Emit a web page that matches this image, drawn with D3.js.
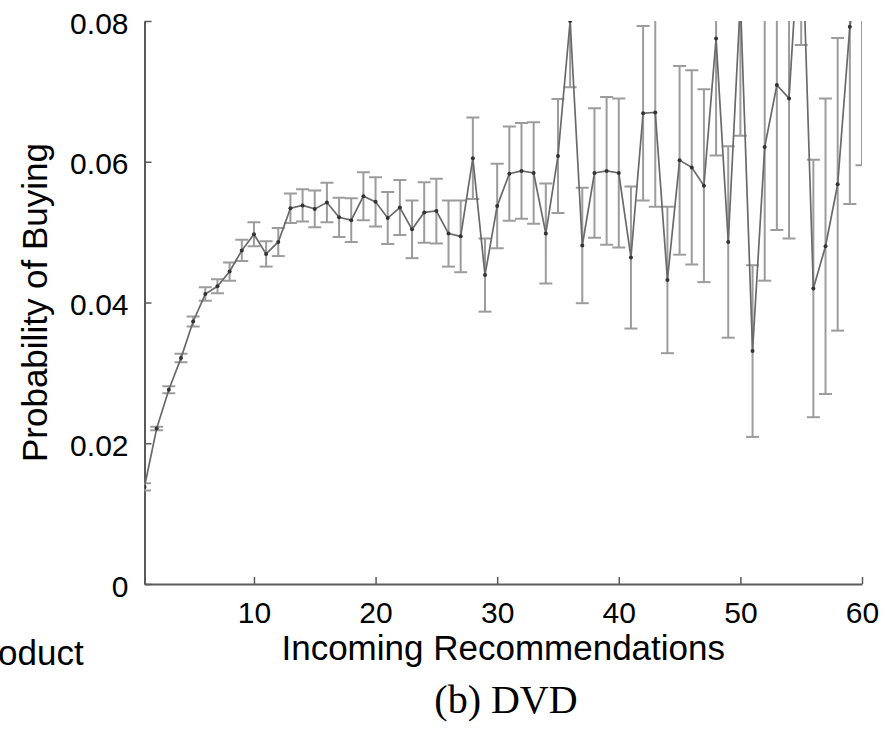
<!DOCTYPE html>
<html>
<head>
<meta charset="utf-8">
<script src="https://cdn.jsdelivr.net/npm/d3@7"></script>
<style>
  body { margin: 0; background: #fff; }
  svg { display: block; }
</style>
</head>
<body>
<div id="chart"></div>
<script>
// number of incoming recommendations
const recs = d3.range(1, 61);

// probability of buying
const prob = [
    0.0138, 0.0221, 0.0276, 0.0321, 0.0373, 0.0412, 0.0423, 0.0444, 0.0474, 0.0497,
    0.0469, 0.0486, 0.0534, 0.0538, 0.0533, 0.0542, 0.0521, 0.0517, 0.0551, 0.0543,
    0.0520, 0.0535, 0.0504, 0.0528, 0.0530, 0.0498, 0.0494, 0.0605, 0.0439, 0.0537,
    0.0583, 0.0587, 0.0584, 0.0498, 0.0608, 0.0800, 0.0481, 0.0584, 0.0587, 0.0584,
    0.0464, 0.0669, 0.0670, 0.0432, 0.0602, 0.0592, 0.0566, 0.0775, 0.0486, 0.0830,
    0.0331, 0.0621, 0.0709, 0.0690, 0.0970, 0.0420, 0.0480, 0.0568, 0.0792, 0.0890
];

// half length of the error bars
const err = [
    0.0005, 0.00025, 0.0005, 0.0006, 0.0007, 0.00095, 0.0010, 0.0013, 0.0015, 0.0017,
    0.0018, 0.0020, 0.0021, 0.0023, 0.0026, 0.0028, 0.0028, 0.0031, 0.0034, 0.0035,
    0.0037, 0.0039, 0.0041, 0.0043, 0.0046, 0.0047, 0.0051, 0.0058, 0.0052, 0.0060,
    0.0067, 0.0068, 0.0072, 0.0071, 0.0081, 0.0094, 0.0082, 0.0092, 0.0105, 0.0106,
    0.0101, 0.0124, 0.0134, 0.0104, 0.0134, 0.0138, 0.0137, 0.0166, 0.0136, 0.0193,
    0.0122, 0.0190, 0.0206, 0.0199, 0.0204, 0.0183, 0.0210, 0.0208, 0.0252, 0.0295
];

const xTicks = [10, 20, 30, 40, 50, 60];
const yTicks = [0, 0.02, 0.04, 0.06, 0.08];

const data = recs.map((r, i) => ({ n: r, p: prob[i], e: err[i] }));

const width = 889;
const height = 737;
const margin = { top: 21, right: 27, bottom: 153, left: 144.5 };
const innerWidth = width - margin.left - margin.right;
const innerHeight = height - margin.top - margin.bottom;
const axisGray = "#5a5a5a";
const barGray = "#9c9c9c";
const lineGray = "#6a6a6a";
const sans = "'Liberation Sans', Arial, sans-serif";

const svg = d3.select("#chart")
    .append("svg")
    .attr("width", width)
    .attr("height", height)
    .attr("viewBox", `0, 0, ${width}, ${height}`);

const inner = svg.append("g")
    .attr("transform", `translate(${margin.left}, ${margin.top})`);

svg.append("defs")
    .append("clipPath")
    .attr("id", "plot-clip")
    .append("rect")
    .attr("x", 0)
    .attr("y", 0)
    .attr("width", innerWidth)
    .attr("height", innerHeight);

const xScale = d3.scaleLinear()
    .domain([1, 60])
    .range([0, innerWidth]);

const yScale = d3.scaleLinear()
    .domain([0, 0.08])
    .range([innerHeight, 0]);

// axes, matlab style: ticks pointing inside
const bottomAxis = d3.axisBottom(xScale)
    .tickValues(xTicks)
    .tickSizeInner(-7)
    .tickSizeOuter(0)
    .tickPadding(18)
    .tickFormat(d3.format("d"));

const leftAxis = d3.axisLeft(yScale)
    .tickValues(yTicks)
    .tickSizeInner(-7)
    .tickSizeOuter(0)
    .tickPadding(16)
    .tickFormat(d => d === 0 ? "0" : d3.format(".2f")(d));

const gx = inner.append("g")
    .attr("class", "axis-x")
    .attr("transform", `translate(0, ${innerHeight})`)
    .call(bottomAxis);

const gy = inner.append("g")
    .attr("class", "axis-y")
    .call(leftAxis);

[gx, gy].forEach(g => {
    g.select(".domain").attr("stroke", axisGray).attr("stroke-width", 2);
    g.selectAll(".tick line").attr("stroke", axisGray).attr("stroke-width", 1.5);
    g.selectAll(".tick text")
        .attr("fill", "#000")
        .style("font-family", sans)
        .style("font-size", "30px");
});
gx.selectAll(".tick text").attr("dy", "0.71em");
gy.selectAll(".tick text").attr("dy", "0.4em");

// error bars, line and dots
const plot = inner.append("g").attr("clip-path", "url(#plot-clip)");
const capW = 6.5;

const bars = plot.append("g")
    .attr("stroke", barGray)
    .attr("stroke-width", 2)
    .attr("fill", "none");

bars.selectAll(".bar")
    .data(data)
    .join("line")
    .attr("class", "bar")
    .attr("x1", d => xScale(d.n))
    .attr("x2", d => xScale(d.n))
    .attr("y1", d => yScale(d.p - d.e))
    .attr("y2", d => yScale(d.p + d.e));

bars.selectAll(".cap-lo")
    .data(data)
    .join("line")
    .attr("class", "cap-lo")
    .attr("x1", d => xScale(d.n) - capW)
    .attr("x2", d => xScale(d.n) + capW)
    .attr("y1", d => yScale(d.p - d.e))
    .attr("y2", d => yScale(d.p - d.e));

bars.selectAll(".cap-hi")
    .data(data)
    .join("line")
    .attr("class", "cap-hi")
    .attr("x1", d => xScale(d.n) - capW)
    .attr("x2", d => xScale(d.n) + capW)
    .attr("y1", d => yScale(d.p + d.e))
    .attr("y2", d => yScale(d.p + d.e));

const line = d3.line()
    .x(d => xScale(d.n))
    .y(d => yScale(d.p));

plot.append("path")
    .attr("d", line(data))
    .attr("fill", "none")
    .attr("stroke", lineGray)
    .attr("stroke-width", 1.7);

plot.selectAll("circle")
    .data(data)
    .join("circle")
    .attr("cx", d => xScale(d.n))
    .attr("cy", d => yScale(d.p))
    .attr("r", 2)
    .attr("fill", "#333");

// axis titles
svg.append("text")
    .text("Incoming Recommendations")
    .attr("x", margin.left + xScale(30.5))
    .attr("y", 660)
    .attr("text-anchor", "middle")
    .style("font-family", sans)
    .style("font-size", "35px");

svg.append("text")
    .text("Probability of Buying")
    .attr("transform", `translate(47, ${margin.top + yScale(0.04)}) rotate(-90)`)
    .attr("text-anchor", "middle")
    .style("font-family", sans)
    .style("font-size", "35px");

// caption of the subfigure and the cut-off neighbour caption
svg.append("text")
    .text("(b) DVD")
    .attr("x", 506)
    .attr("y", 713)
    .attr("text-anchor", "middle")
    .style("font-family", "'Liberation Serif', 'DejaVu Serif', serif")
    .style("font-size", "40px");

svg.append("text")
    .text("oduct")
    .attr("x", -2)
    .attr("y", 665)
    .style("font-family", sans)
    .style("font-size", "35px");
</script>
</body>
</html>
